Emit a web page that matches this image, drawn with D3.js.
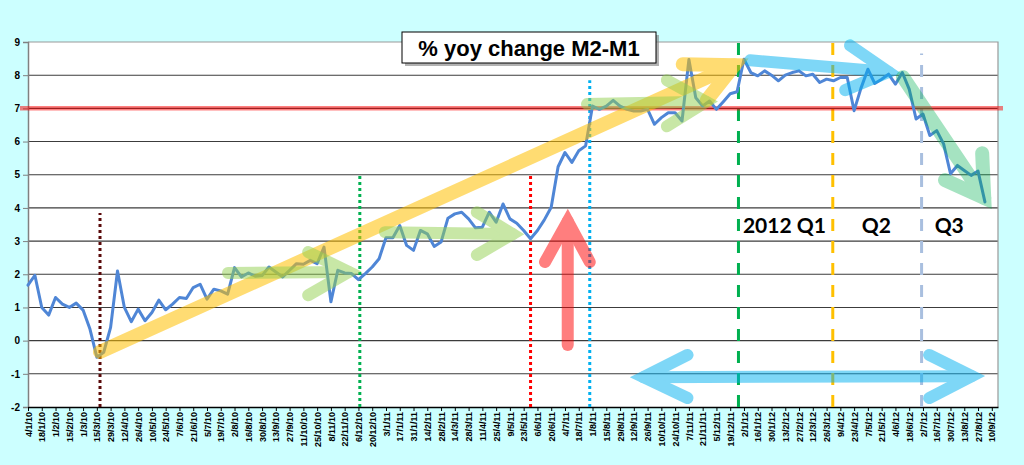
<!DOCTYPE html>
<html>
<head>
<meta charset="utf-8">
<script src="https://cdn.jsdelivr.net/npm/d3@7"></script>
<style>
  html, body { margin: 0; padding: 0; background: #ccffff; }
  svg { display: block; }
</style>
</head>
<body>
<svg id="chart" width="1024" height="465"></svg>
<script>
// weekly values, first week 4/1/10
const values = [
  1.67, 1.97, 1.0, 0.77, 1.3, 1.1, 1.0, 1.13, 0.92, 0.35,
  -0.5, -0.35, 0.4, 2.1, 1.0, 0.57, 0.95, 0.6, 0.85, 1.22,
  0.93, 1.1, 1.3, 1.27, 1.6, 1.7, 1.25, 1.55, 1.5, 1.4,
  2.2, 1.92, 2.04, 1.94, 1.96, 2.22, 2.07, 1.92, 2.12, 2.32,
  2.3, 2.42, 2.32, 2.82, 1.17, 2.12, 2.04, 2.02, 1.84, 2.02,
  2.22, 2.47, 3.1, 3.1, 3.47, 2.87, 2.72, 3.32, 3.22, 2.84,
  2.97, 3.69, 3.82, 3.87, 3.67, 3.4, 3.42, 3.87, 3.57, 4.12,
  3.67, 3.54, 3.32, 3.07, 3.32, 3.64, 4.02, 5.24, 5.67, 5.37,
  5.72, 5.87, 7.07, 6.97, 7.07, 7.24, 7.07, 6.97, 6.92, 6.92,
  6.97, 6.52, 6.72, 6.87, 6.87, 6.62, 8.47, 7.32, 7.07, 7.22,
  6.97, 7.2, 7.44, 7.5, 8.48, 8.08, 7.98, 8.13, 8.0, 7.83,
  8.0, 8.08, 8.13, 7.98, 8.03, 7.78, 7.88, 7.83, 7.93, 7.93,
  6.93, 7.61, 8.18, 7.75, 7.88, 8.03, 7.73, 8.08, 7.58, 6.68,
  6.83, 6.18, 6.33, 5.93, 5.03, 5.28, 5.13, 4.98, 5.11, 4.18
];

// one label every two weeks
const tickLabels = [
  '4/1/10', '18/1/10', '1/2/10', '15/2/10', '1/3/10', '15/3/10', '29/3/10', '12/4/10', '26/4/10',
  '10/5/10', '24/5/10', '7/6/10', '21/6/10', '5/7/10', '19/7/10', '2/8/10', '16/8/10', '30/8/10',
  '13/9/10', '27/9/10', '11/10/10', '25/10/10', '8/11/10', '22/11/10', '6/12/10', '20/12/10',
  '3/1/11', '17/1/11', '31/1/11', '14/2/11', '28/2/11', '14/3/11', '28/3/11', '11/4/11', '25/4/11',
  '9/5/11', '23/5/11', '6/6/11', '20/6/11', '4/7/11', '18/7/11', '1/8/11', '15/8/11', '29/8/11',
  '12/9/11', '26/9/11', '10/10/11', '24/10/11', '7/11/11', '21/11/11', '5/12/11', '19/12/11',
  '2/1/12', '16/1/12', '30/1/12', '13/2/12', '27/2/12', '12/3/12', '26/3/12', '9/4/12', '23/4/12',
  '7/5/12', '21/5/12', '4/6/12', '18/6/12', '2/7/12', '16/7/12', '30/7/12', '13/8/12', '27/8/12',
  '10/9/12'
];

const yTicks = [-2, -1, 0, 1, 2, 3, 4, 5, 6, 7, 8, 9];
const refLevel = 7;

// vertical markers: week index and top value
const markerWeeks = [10.46, 48.2, 73.0, 81.6, 103.2, 116.9, 129.8];
const markerTops = [3.85, 5.0, 5.05, 7.85, 9, 9, 8.65];

const quarterLabels = ['2012 Q1', 'Q2', 'Q3'];
const quarterWeeks = [103.85, 121.1, 131.7];
const quarterLevel = 3.24;

// arrows in data units [week, value]
const arrowYellow = { shaft: [[10.46, -0.34], [102.6, 8.3]], heads: [[[95.1, 8.33], [102.6, 8.3], [98.6, 7.25]]] };
const arrowsGreen = [
  { shaft: [[29.05, 2.04], [46.6, 2.07]], heads: [[[40.7, 2.67], [46.6, 2.07], [40.7, 1.37]]] },
  { shaft: [[51.85, 3.27], [70.4, 3.21]], heads: [[[65.2, 3.87], [70.4, 3.21], [65.2, 2.58]]] },
  { shaft: [[81.2, 7.13], [98.5, 7.2]], heads: [[[92.8, 7.85], [98.5, 7.2], [92.8, 6.46]]] },
];
const arrowsBlue = [
  { shaft: [[104.9, 8.45], [125.0, 8.1]], heads: [[[119.4, 8.9], [125.0, 8.1], [118.7, 7.55]]] },
  { shaft: [[89.4, -1.1], [137.1, -1.07]], heads: [
    [[95.8, -0.43], [89.4, -1.1], [95.8, -1.73]],
    [[130.9, -0.43], [137.1, -1.07], [130.9, -1.73]]
  ] },
];
const arrowTeal = { shaft: [[127.1, 7.94], [138.9, 4.3]], heads: [[[138.6, 5.65], [138.9, 4.3], [133.2, 4.84]]] };
const arrowRed = { shaft: [[78.4, -0.13], [78.4, 3.6]], heads: [[[75.1, 2.37], [78.4, 3.6], [81.6, 2.37]]] };

function start() {
  const svg = d3.select('#chart');
  const left = 28, right = 998, top = 42, bottom = 407;

  const x = d3.scaleLinear().domain([0, 140.9]).range([left, right]);
  const y = d3.scaleLinear().domain([-2, 9]).range([bottom, top]);

  svg.append('rect').attr('width', 1024).attr('height', 465).attr('fill', '#ccffff');
  svg.append('rect')
    .attr('x', left).attr('y', top)
    .attr('width', right - left).attr('height', bottom - top)
    .attr('fill', '#fff');

  // grid
  svg.append('g')
    .selectAll('line')
    .data(yTicks.filter(d => d > -2 && d < 9))
    .join('line')
    .attr('x1', left).attr('x2', right)
    .attr('y1', d => y(d)).attr('y2', d => y(d))
    .attr('stroke', '#3c3c3c')
    .attr('stroke-width', 1.1);

  // top / right frame
  svg.append('path')
    .attr('d', `M${left},${top}H${right}V${bottom}`)
    .attr('fill', 'none')
    .attr('stroke', '#999')
    .attr('stroke-width', 1.2);

  // y axis
  const yAxis = svg.append('g')
    .attr('transform', `translate(${left},0)`)
    .call(d3.axisLeft(y).tickValues(yTicks).tickFormat(d => String(d)).tickSize(5).tickPadding(3));
  yAxis.select('.domain').attr('stroke', '#808080').attr('stroke-width', 1.5);
  yAxis.selectAll('.tick line').attr('stroke', '#808080');
  yAxis.selectAll('text')
    .attr('font-family', 'Liberation Sans, Arial, sans-serif')
    .attr('font-weight', 'bold')
    .attr('font-size', 10)
    .attr('fill', '#000');

  // x axis
  const xAxis = svg.append('g')
    .attr('transform', `translate(0,${bottom})`)
    .call(d3.axisBottom(x)
      .tickValues(tickLabels.map((d, i) => i * 2))
      .tickFormat((d, i) => tickLabels[i])
      .tickSize(4)
      .tickSizeOuter(0));
  xAxis.select('.domain').attr('stroke', '#000').attr('stroke-width', 1.3);
  xAxis.selectAll('.tick line').attr('stroke', '#000');
  xAxis.selectAll('text')
    .attr('transform', 'rotate(-90)')
    .attr('text-anchor', 'end')
    .attr('x', -5)
    .attr('y', 0)
    .attr('dy', '0.35em')
    .attr('font-family', 'Liberation Sans, Arial, sans-serif')
    .attr('font-weight', 'bold')
    .attr('font-size', 9)
    .attr('fill', '#000');

  // vertical markers
  const markerStyles = [
    { color: '#5a0a0a', dash: '3,3' },
    { color: '#00b050', dash: '3,3' },
    { color: '#ff0000', dash: '3,3' },
    { color: '#00b0f0', dash: '3,3' },
    { color: '#00b050', dash: '12,10' },
    { color: '#ffc000', dash: '12,10' },
    { color: '#a9bfdf', dash: '12,10' },
  ];
  svg.append('g')
    .selectAll('line')
    .data(markerWeeks)
    .join('line')
    .attr('x1', d => x(d)).attr('x2', d => x(d))
    .attr('y1', y(-2))
    .attr('y2', (d, i) => y(markerTops[i]))
    .attr('stroke', (d, i) => markerStyles[i].color)
    .attr('stroke-dasharray', (d, i) => markerStyles[i].dash)
    .attr('stroke-width', 3);

  // 7% level
  svg.append('line')
    .attr('x1', left - 8).attr('x2', right + 5)
    .attr('y1', y(refLevel)).attr('y2', y(refLevel))
    .attr('stroke', '#ff0000')
    .attr('stroke-opacity', 0.5)
    .attr('stroke-width', 4.5);

  // series
  const line = d3.line()
    .x((d, i) => x(i))
    .y(d => y(d));
  svg.append('path')
    .datum(values)
    .attr('fill', 'none')
    .attr('stroke', '#4f86d6')
    .attr('stroke-width', 3)
    .attr('stroke-linejoin', 'round')
    .attr('stroke-linecap', 'round')
    .attr('d', line);

  // arrows
  const pathXY = d3.line().x(d => x(d[0])).y(d => y(d[1]));
  const drawArrow = (a, color, width, opacity) => {
    const g = svg.append('g').attr('opacity', opacity);
    g.append('path')
      .attr('d', pathXY(a.shaft))
      .attr('fill', 'none')
      .attr('stroke', color)
      .attr('stroke-width', width)
      .attr('stroke-linecap', 'round');
    a.heads.forEach(h => {
      g.append('path')
        .attr('d', pathXY(h))
        .attr('fill', 'none')
        .attr('stroke', color)
        .attr('stroke-width', width)
        .attr('stroke-linecap', 'round')
        .attr('stroke-linejoin', 'miter');
    });
  };
  drawArrow(arrowYellow, '#ffc000', 14, 0.55);
  arrowsGreen.forEach(a => drawArrow(a, '#92d050', 12, 0.5));
  arrowsBlue.forEach(a => drawArrow(a, '#00b0f0', 12, 0.5));
  drawArrow(arrowTeal, '#00b050', 14, 0.35);
  drawArrow(arrowRed, '#ff0000', 12, 0.5);

  // quarter labels
  svg.append('g')
    .selectAll('text')
    .data(quarterLabels)
    .join('text')
    .attr('x', (d, i) => x(quarterWeeks[i]))
    .attr('y', y(quarterLevel))
    .attr('font-family', 'Lato, Open Sans, sans-serif')
    .attr('font-weight', 'bold')
    .attr('font-size', 21)
    .attr('fill', '#000')
    .text(d => d);

  // title box
  const title = svg.append('g').attr('transform', 'translate(402,32)');
  title.append('rect')
    .attr('x', 3).attr('y', 3)
    .attr('width', 254).attr('height', 31)
    .attr('fill', '#7f7f7f')
    .attr('opacity', 0.6);
  title.append('rect')
    .attr('width', 254).attr('height', 31)
    .attr('fill', '#fff')
    .attr('stroke', '#000')
    .attr('stroke-width', 1);
  title.append('text')
    .attr('x', 127).attr('y', 24)
    .attr('text-anchor', 'middle')
    .attr('font-family', 'Liberation Sans, Arial, sans-serif')
    .attr('font-weight', 'bold')
    .attr('font-size', 22)
    .attr('fill', '#000')
    .text('% yoy change M2-M1');
}

window.onload = start;
</script>
</body>
</html>
